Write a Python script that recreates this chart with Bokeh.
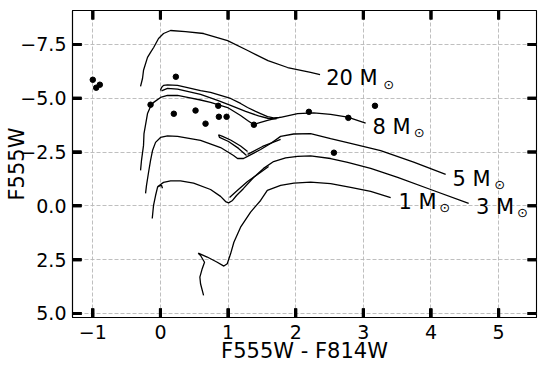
from bokeh.plotting import figure
from bokeh.models import Range1d, FixedTicker, ColumnDataSource, BoxAnnotation
from bokeh.core.properties import value
from bokeh.embed import file_html
from bokeh.resources import INLINE

# ---------------- data ----------------
x_lo, x_hi = -1.30, 5.56
y_lo, y_hi = 5.19, -9.08          # magnitude axis is inverted
xticks = [-1, 0, 1, 2, 3, 4, 5]
xtick_labels = ["\u22121", "0", "1", "2", "3", "4", "5"]
yticks = [-7.5, -5.0, -2.5, 0.0, 2.5, 5.0]
ytick_labels = ["\u22127.5", "\u22125.0", "\u22122.5", "0.0", "2.5", "5.0"]

# observed stars (colour, magnitude)
star_color = [-1.00, -0.95, -0.896, 0.228, -0.146, 0.198, 0.519, 0.855,
              0.667, 0.864, 0.978, 1.382, 2.195, 2.778, 3.172, 2.565]
star_mag = [-5.86, -5.49, -5.63, -6.00, -4.70, -4.28, -4.43, -4.65,
            -3.82, -4.14, -4.14, -3.77, -4.37, -4.09, -4.65, -2.47]

# evolutionary tracks
trk20_x = [-0.294, -0.265, -0.250, -0.191, -0.146, -0.100, -0.028, 0.046, 0.150,
           0.371, 0.638, 0.993, 1.29, 1.59, 1.88, 2.22, 2.36]
trk20_y = [-5.55, -5.92, -6.30, -6.90, -7.13, -7.36, -7.78, -8.01, -8.15,
           -8.10, -8.01, -7.68, -7.22, -6.75, -6.43, -6.20, -6.10]

trk8a_x = [0.00, 0.016, 0.046, 0.105, 0.253, 0.401, 0.593, 0.741, 0.889, 1.037,
           1.185, 1.288, 1.407, 1.481, 1.584, 1.673, 1.777, 2.028, 2.265, 2.516,
           2.768, 3.034]
trk8a_y = [-5.36, -5.50, -5.60, -5.62, -5.60, -5.50, -5.36, -5.27, -5.13, -4.99,
           -4.76, -4.57, -4.39, -4.29, -4.15, -4.09, -4.11, -4.29, -4.32, -4.25,
           -4.12, -3.84]

trk8b_x = [0.016, 0.105, 0.253, 0.593, 0.845, 1.037, 1.259, 1.451, 1.599, 1.717]
trk8b_y = [-5.34, -5.46, -5.43, -5.18, -4.90, -4.67, -4.39, -4.18, -4.06, -4.04]

trk8c_x = [-0.294, -0.280, -0.250, -0.243, -0.191, -0.146, -0.100, 0.0015, 0.105,
           0.253, 0.401, 0.593, 0.741, 0.993, 1.185, 1.288, 1.377, 1.481, 1.584, 1.777]
trk8c_y = [-1.65, -2.11, -2.81, -3.36, -4.29, -4.62, -4.81, -5.04, -5.13,
           -5.13, -5.04, -4.92, -4.81, -4.57, -4.20, -3.97, -3.78, -3.88, -3.97, -4.12]

trk5_x = [-0.220, -0.206, -0.176, -0.146, -0.117, -0.072, 0.0015, 0.105, 0.253,
          0.593, 0.889, 1.081, 1.140, 1.229, 1.288, 1.481, 1.629, 1.777, 1.969,
          2.220, 2.516, 2.812, 3.256, 3.744, 4.217]
trk5_y = [-0.58, -0.95, -1.55, -2.11, -2.57, -2.95, -3.18, -3.25, -3.23,
          -3.04, -2.71, -2.34, -2.20, -2.20, -2.30, -2.62, -2.90, -3.23, -3.34,
          -3.36, -3.12, -2.90, -2.57, -2.03, -1.46]
loop5_x = [1.288, 1.185, 1.037, 0.919, 0.860, 0.874, 1.007, 1.155, 1.273]
loop5_y = [-2.53, -2.78, -3.06, -3.23, -3.30, -3.18, -2.99, -2.67, -2.34]
wedge5_x = [1.288, 1.510, 1.777]
wedge5_y = [-2.39, -2.76, -3.09]

trk3_x = [-0.121, -0.102, -0.072, -0.043, 0.0015, 0.046, 0.150, 0.297, 0.490,
          0.741, 0.889, 0.963, 1.007, 1.066, 1.125, 1.229, 1.377, 1.525, 1.673,
          1.851, 2.028, 2.220, 2.516, 2.768, 3.108, 3.507, 3.995, 4.557]
trk3_y = [0.59, -0.02, -0.48, -0.86, -0.99, -1.09, -1.16, -1.16, -1.06,
          -0.76, -0.44, -0.20, -0.14, -0.25, -0.48, -0.81, -1.32, -1.74, -2.06,
          -2.23, -2.30, -2.32, -2.20, -2.02, -1.74, -1.32, -0.76, -0.11]
hook3_x = [-0.043, 0.016, 0.030]
hook3_y = [-0.89, -0.96, -0.82]
wedge3_x = [1.022, 1.140, 1.288, 1.436, 1.599]
wedge3_y = [-0.39, -0.72, -1.13, -1.46, -1.83]

trk1_x = [0.638, 0.593, 0.583, 0.618, 0.652, 0.593, 0.559, 0.692, 0.840, 0.938,
          0.988, 1.037, 1.086, 1.185, 1.333, 1.481, 1.580, 1.777, 1.973, 2.220,
          2.516, 2.812, 3.108, 3.404]
trk1_y = [4.16, 3.62, 3.31, 2.92, 2.62, 2.31, 2.20, 2.38, 2.62, 2.80,
          2.69, 2.23, 1.69, 0.99, 0.29, -0.25, -0.72, -0.95, -1.06, -1.10,
          -1.03, -0.86, -0.67, -0.38]

track_x = [trk20_x, trk8a_x, trk8b_x, trk8c_x, trk5_x, loop5_x, wedge5_x,
           trk3_x, hook3_x, wedge3_x, trk1_x]
track_y = [trk20_y, trk8a_y, trk8b_y, trk8c_y, trk5_y, loop5_y, wedge5_y,
           trk3_y, hook3_y, wedge3_y, trk1_y]

# mass labels
mass_text = ["20 M", "8 M", "5 M", "1 M", "3 M"]
mass_x = [2.45, 3.135, 4.318, 3.519, 4.664]
mass_y = [-5.93, -3.68, -1.23, -0.19, 0.04]
sun_x = [3.294, 3.746, 4.936, 4.123, 5.272]
sun_y = [-5.63, -3.41, -0.98, 0.08, 0.31]

FONT = "DejaVu Sans"
W, H = 538, 365
B_LEFT, B_RIGHT, B_TOP, B_BOTTOM = 72, 2, 10, 48
TICK_LEN = 9     # px, pointing into the frame
TICK_W = 3       # px

p = figure(width=W, height=H,
           x_range=Range1d(x_lo, x_hi), y_range=Range1d(y_lo, y_hi),
           output_backend="svg", toolbar_location=None,
           min_border_left=B_LEFT, min_border_right=B_RIGHT, min_border_top=B_TOP,
           min_border_bottom=40)
p.background_fill_color = "white"
p.border_fill_color = "white"
p.outline_line_color = "black"
p.outline_line_width = 1.1

for g in (p.xgrid[0], p.ygrid[0]):
    g.grid_line_color = "#b8b8b8"
    g.grid_line_dash = "4 2"
    g.grid_line_width = 0.9

def style_axis(ax, ticks, labels):
    ax.ticker = FixedTicker(ticks=ticks)
    ax.major_label_overrides = dict(zip(ticks, labels))
    ax.major_tick_in = TICK_LEN
    ax.major_tick_out = 0
    ax.major_tick_line_width = TICK_W
    ax.major_tick_line_color = "black"
    ax.minor_tick_line_color = None
    ax.axis_line_color = "black"
    ax.axis_line_width = 1.1
    ax.major_label_text_font = FONT
    ax.major_label_text_color = "black"
    ax.major_label_text_font_size = "19px"
    ax.axis_label_text_font = FONT
    ax.axis_label_text_font_style = "normal"
    ax.axis_label_text_color = "black"
    ax.axis_label_text_font_size = "21px"

xa = p.xaxis[0]
ya = p.yaxis[0]
style_axis(xa, xticks, xtick_labels)
style_axis(ya, yticks, ytick_labels)
xa.axis_label = "F555W - F814W"
xa.major_label_standoff = 7
xa.axis_label_standoff = -3
ya.axis_label = "F555W"
ya.major_label_standoff = 6
ya.axis_label_standoff = -12

# inward major tick marks on all four sides, at the tick values
px_per_x = (W - B_LEFT - B_RIGHT) / (x_hi - x_lo)
px_per_y = (H - B_TOP - B_BOTTOM) / (y_lo - y_hi)
lx = TICK_LEN / px_per_x
ly = TICK_LEN / px_per_y
hwx = (TICK_W / 2) / px_per_x
hwy = (TICK_W / 2) / px_per_y

for t in xticks:
    for edge, sgn in ((y_lo, -1), (y_hi, 1)):
        p.add_layout(BoxAnnotation(left=t - hwx, right=t + hwx,
                                   bottom=edge, top=edge + sgn * ly,
                                   fill_color="black", fill_alpha=1.0,
                                   line_color=None, level="overlay"))
for t in yticks:
    for edge, sgn in ((x_lo, 1), (x_hi, -1)):
        p.add_layout(BoxAnnotation(left=min(edge, edge + sgn * lx),
                                   right=max(edge, edge + sgn * lx),
                                   bottom=t - hwy, top=t + hwy,
                                   fill_color="black", fill_alpha=1.0,
                                   line_color=None, level="overlay"))

tick_line_x, tick_line_y = [], []
for t in xticks:
    tick_line_x += [t, t, float("nan"), t, t, float("nan")]
    tick_line_y += [y_lo, y_lo - ly, float("nan"), y_hi, y_hi + ly, float("nan")]
for t in yticks:
    tick_line_x += [x_lo, x_lo + lx, float("nan"), x_hi, x_hi - lx, float("nan")]
    tick_line_y += [t, t, float("nan"), t, t, float("nan")]
p.line(tick_line_x, tick_line_y, line_color="black", line_width=TICK_W)

for tx, ty in zip(track_x, track_y):
    p.line(tx, ty, line_color="black", line_width=1.3)

p.scatter(star_color, star_mag, size=5.5, color="black")

p.text(x=mass_x, y=mass_y, text=mass_text, text_font=value(FONT),
       text_font_size="21px", text_baseline="alphabetic", text_align="left",
       text_color="black")
p.text(x=sun_x, y=sun_y, text=["\u2299"] * len(sun_x), text_font=value(FONT),
       text_font_size="13px", text_baseline="alphabetic", text_align="left",
       text_color="black")

open("out.html", "w").write(file_html(p, INLINE))
